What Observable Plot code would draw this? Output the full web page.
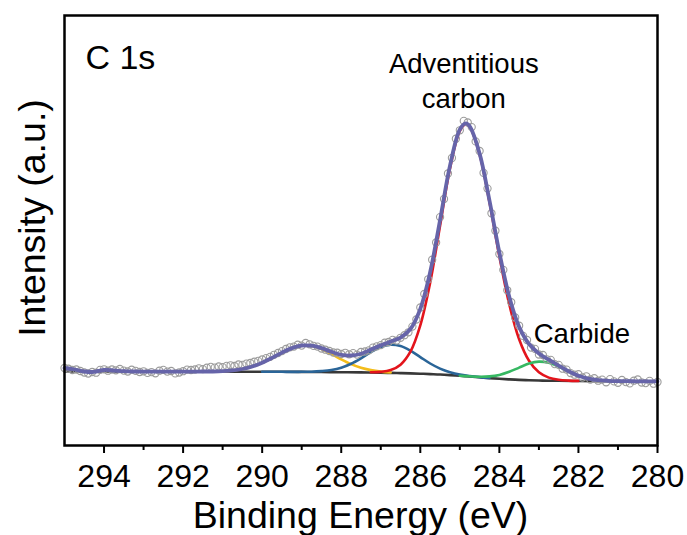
<!DOCTYPE html>
<html>
<head>
<meta charset="utf-8">
<script src="https://cdn.jsdelivr.net/npm/d3@7"></script>
<script src="https://cdn.jsdelivr.net/npm/@observablehq/plot@0.6"></script>
<style>
  html, body { margin: 0; padding: 0; background: #ffffff; }
  #chart { width: 687px; height: 535px; }
</style>
</head>
<body>
<div id="chart"></div>
<script>
// Binding energy (eV), intensity (a.u.)
const dataPoints = [
  [295.0,77.5],[294.9,76.8],[294.8,75.5],[294.7,76.0],[294.6,74.5],[294.5,73.0],[294.4,72.0],[294.3,73.5],[294.2,72.8],[294.1,75.6],
  [294.0,76.2],[293.9,74.8],[293.8,76.0],[293.7,75.2],[293.6,76.5],[293.5,74.9],[293.4,74.0],[293.3,75.8],[293.2,74.6],[293.1,73.5],
  [293.0,74.2],[292.9,72.6],[292.8,73.4],[292.7,72.2],[292.6,74.8],[292.5,75.6],[292.4,73.9],[292.3,74.5],[292.2,72.1],[292.1,73.0],
  [292.0,74.3],[291.9,75.9],[291.8,75.5],[291.7,76.0],[291.6,77.2],[291.5,76.4],[291.4,77.8],[291.3,78.6],[291.2,77.9],[291.1,79.0],
  [291.0,78.4],[290.9,79.6],[290.8,80.2],[290.7,79.5],[290.6,81.0],[290.5,80.6],[290.4,81.9],[290.3,82.5],[290.2,83.8],[290.1,84.6],
  [290.0,86.0],[289.9,87.4],[289.8,88.6],[289.7,90.7],[289.6,92.5],[289.5,94.4],[289.4,96.5],[289.3,98.2],[289.2,98.9],[289.1,100.8],
  [289.0,99.9],[288.9,102.5],[288.8,101.2],[288.7,99.6],[288.6,98.9],[288.5,97.0],[288.4,95.8],[288.3,94.5],[288.2,93.0],[288.1,92.8],
  [288.0,91.5],[287.9,92.7],[287.8,91.2],[287.7,92.4],[287.6,90.9],[287.5,93.5],[287.4,94.0],[287.3,95.2],[287.2,97.9],[287.1,99.2],
  [287.0,100.4],[286.9,102.8],[286.8,103.5],[286.7,105.6],[286.6,104.9],[286.5,107.7],[286.4,110.3],[286.3,113.2],[286.2,118.9],[286.1,126.0],
  [286.0,138.0],[285.9,151.5],[285.8,166.2],[285.7,185.8],[285.6,203.0],[285.5,228.4],[285.4,246.5],[285.3,272.0],[285.2,287.5],[285.1,306.8],
  [285.0,315.2],[284.9,324.6],[284.8,323.0],[284.7,318.4],[284.6,304.1],[284.5,294.5],[284.4,272.6],[284.3,256.9],[284.2,232.2],[284.1,214.8],
  [284.0,191.5],[283.9,175.6],[283.8,155.2],[283.7,143.3],[283.6,128.0],[283.5,119.8],[283.4,109.6],[283.3,105.5],[283.2,97.9],[283.1,96.6],
  [283.0,91.0],[282.9,90.5],[282.8,86.1],[282.7,85.6],[282.6,81.4],[282.5,80.6],[282.4,76.8],[282.3,75.9],[282.2,72.4],[282.1,70.8],
  [282.0,71.3],[281.9,68.0],[281.8,69.2],[281.7,66.0],[281.6,67.3],[281.5,64.8],[281.4,65.9],[281.3,63.2],[281.2,66.4],[281.1,64.1],
  [281.0,62.7],[280.9,65.5],[280.8,63.4],[280.7,62.1],[280.6,64.8],[280.5,66.0],[280.4,63.0],[280.3,62.4],[280.2,64.6],[280.1,61.8],
  [280.0,63.5]
];

// Fitted envelope (sum of components + background)
const envelopeFit = [
  [295,77.5],[294.75,76.0],[294.5,74.0],[294.25,73.6],[294,75.5],[293.75,75.0],[293.5,74.3],[293.25,74.0],[293,73.9],[292.75,73.9],
  [292.5,73.9],[292.25,73.9],[292,73.9],[291.75,73.9],[291.5,74.0],[291.25,74.0],[291,74.3],[290.75,75.1],[290.5,76.5],[290.25,79.0],
  [290,82.8],[289.75,87.6],[289.5,92.9],[289.25,97.4],[289,100.0],[288.75,99.8],[288.5,97.4],[288.25,93.7],[288,90.7],[287.75,90.0],
  [287.5,91.8],[287.25,95.9],[287,100.3],[286.75,103.9],[286.5,107.9],[286.25,116.5],[286,136.7],[285.75,173.5],[285.5,225.5],[285.25,279.6],
  [285,316.0],[284.85,322.1],[284.75,319.2],[284.5,292.0],[284.25,245.0],[284,193.0],[283.75,148.8],[283.5,118.6],[283.25,101.5],[283,92.1],
  [282.75,85.8],[282.5,79.9],[282.25,74.3],[282,69.8],[281.75,66.9],[281.5,65.3],[281.25,64.7],[281,64.4],[280.75,64.3],[280.5,64.2],
  [280.25,64.2],[280,64.2]
];

// Shirley-type background
const backgroundFit = [
  [295,74.0],[294,74.0],[293,73.9],[292,73.9],[291,73.8],[290,73.8],[289.5,73.7],[289,73.6],[288.5,73.5],[288,73.3],
  [287.5,73.1],[287,72.8],[286.75,72.6],[286.5,72.4],[286.25,72.1],[286,71.8],[285.75,71.4],[285.5,71.0],[285.25,70.4],[285,69.7],
  [284.75,69.0],[284.5,68.2],[284.25,67.4],[284,66.7],[283.75,66.1],[283.5,65.6],[283.25,65.3],[283,65.0],[282.75,64.8],[282.5,64.7],
  [282,64.5],[281.5,64.4],[281,64.3],[280.5,64.2],[280,64.2]
];

// O–C=O component (~288.9 eV)
const yellowFit = [
  [291,74.3],[290.75,75.1],[290.5,76.5],[290.25,79.0],[290,82.8],[289.75,87.6],[289.5,92.9],[289.25,97.4],[289,99.9],
  [288.75,99.5],[288.5,96.5],[288.25,91.6],[288,86.2],[287.75,81.4],[287.5,77.7],[287.25,75.4],[287,73.9],[286.75,73.0]
];

// C–O component (~286.7 eV)
const blueFit = [
  [290,73.8],[289.75,73.7],[289.5,73.7],[289.25,73.6],[289,73.7],[288.75,73.8],[288.5,74.4],[288.25,75.5],[288,77.8],
  [287.75,81.8],[287.5,87.2],[287.25,93.3],[287,98.4],[286.75,100.7],[286.5,99.4],[286.25,94.8],[286,88.4],[285.75,82.0],
  [285.5,76.9],[285.25,73.3],[285,70.9],[284.75,69.5],[284.5,68.4],[284.25,67.5]
];

// Adventitious carbon component (~284.85 eV)
const redFit = [
  [287.25,73.2],[287,73.6],[286.75,75.4],[286.5,80.8],[286.25,93.8],[286,120.1],[285.75,162.9],[285.5,219.6],[285.25,276.7],
  [285,314.7],[284.85,321.3],[284.75,318.5],[284.5,291.2],[284.25,243.2],[284,189.1],[283.75,141.2],[283.5,106.3],[283.25,84.8],
  [283,73.2],[282.75,67.9],[282.5,65.7],[282.25,64.9],[282,64.6]
];

// Carbide component (~282.95 eV)
const greenFit = [
  [285,69.75],[284.75,69.2],[284.5,68.8],[284.25,69.1],[284,70.6],[283.75,73.7],[283.5,77.9],[283.25,82.0],[283,83.9],
  [282.75,82.7],[282.5,78.9],[282.25,74.0],[282,69.7],[281.75,66.9],[281.5,65.3]
];

const majorTicks = [294, 292, 290, 288, 286, 284, 282, 280];
const minorTicks = [293, 291, 289, 287, 285, 283, 281];
const xTitle = "Binding Energy (eV)";
const yTitle = "Intensity (a.u.)";

const rows = arr => arr.map(([x, y]) => ({x, y}));
const FONT = "'Liberation Sans', Arial, Helvetica, sans-serif";

const fitLine = (arr, color, w) =>
  Plot.line(rows(arr), {x: "x", y: "y", stroke: color, strokeWidth: w, curve: "catmull-rom"});

const chart = Plot.plot({
  width: 687,
  height: 535,
  marginLeft: 64,
  marginRight: 30,
  marginTop: 15,
  marginBottom: 90,
  x: {domain: [295, 280]},
  y: {domain: [0, 430], axis: null},
  style: {fontFamily: FONT, color: "#000", background: "#fff", overflow: "visible"},
  marks: [
    fitLine(backgroundFit, "#383838", 2.6),
    fitLine(yellowFit, "#f3bd1c", 2.6),
    fitLine(blueFit, "#2a6598", 2.6),
    fitLine(redFit, "#e3141c", 2.6),
    fitLine(greenFit, "#36b862", 2.6),
    Plot.dot(rows(dataPoints), {x: "x", y: "y", r: 3.6, stroke: "#9c9c9c", strokeWidth: 1.1, fill: "none"}),
    fitLine(envelopeFit, "#6664a9", 3.8),
    Plot.frame({stroke: "#000", strokeWidth: 2.5}),
    Plot.axisX({ticks: majorTicks, tickSize: 8, tickPadding: 11, fontSize: 32, strokeWidth: 2, label: null, tickFormat: d => String(d)}),
    Plot.axisX({ticks: minorTicks, tickSize: 5, strokeWidth: 2, label: null, tickFormat: () => ""}),
    Plot.text(["C 1s"], {x: [294.47], y: [377], text: d => d, fontSize: 34, textAnchor: "start", lineAnchor: "bottom", fill: "#000"}),
    Plot.text(["Adventitious\ncarbon"], {x: [284.9], y: [338], text: d => d, fontSize: 27.5, lineHeight: 1.24, textAnchor: "middle", lineAnchor: "bottom", fill: "#000"}),
    Plot.text(["Carbide"], {x: [283.13], y: [103], text: d => d, fontSize: 27.5, textAnchor: "start", lineAnchor: "bottom", fill: "#000"})
  ]
});

const svg = d3.select(chart);
svg.append("text")
  .attr("x", 360.5).attr("y", 528)
  .attr("text-anchor", "middle")
  .attr("font-family", FONT).attr("font-size", 37.5).attr("fill", "#000")
  .text(xTitle);
svg.append("text")
  .attr("transform", "translate(45,218) rotate(-90)")
  .attr("text-anchor", "middle")
  .attr("font-family", FONT).attr("font-size", 37.5).attr("fill", "#000")
  .text(yTitle);

document.getElementById("chart").appendChild(chart);
</script>
</body>
</html>
